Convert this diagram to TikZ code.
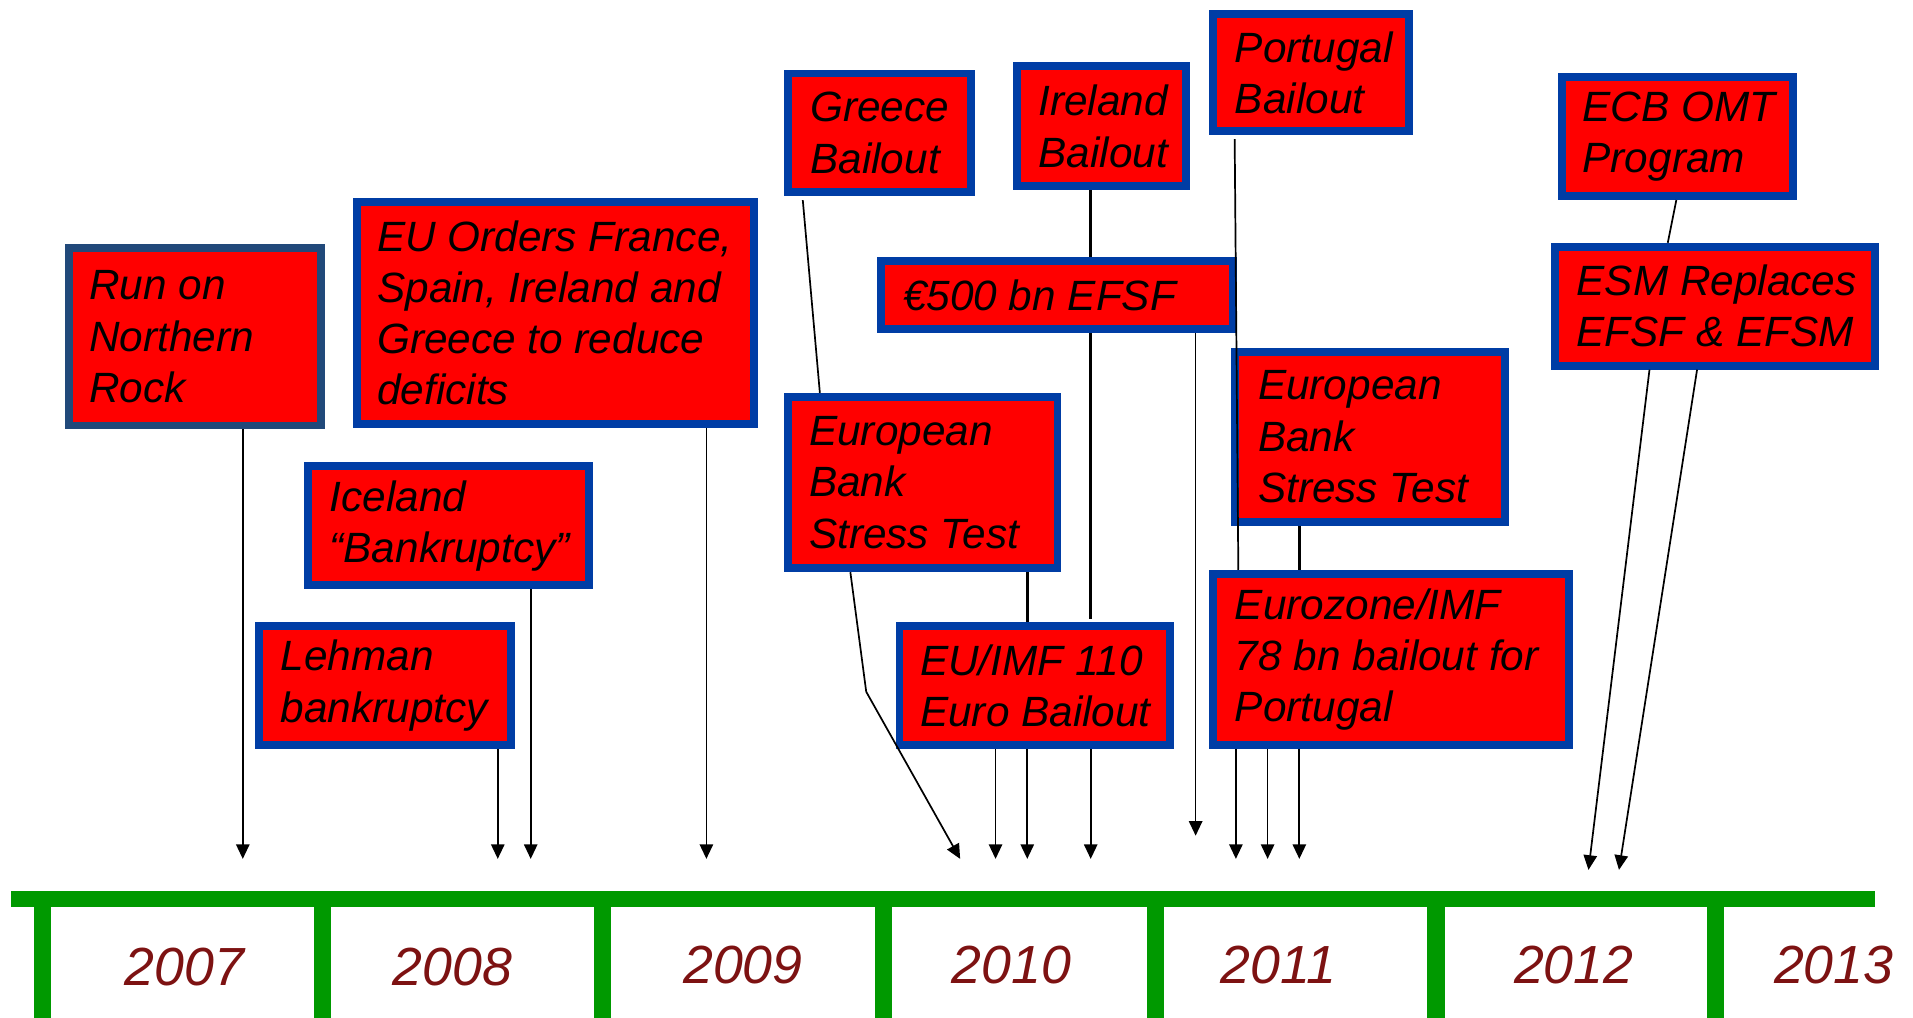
\documentclass[tikz,border=0pt]{standalone}
\usepackage{fontspec}
\setmainfont{Liberation Sans}
\usetikzlibrary{arrows.meta,calc}
\definecolor{boxred}{RGB}{255,0,0}
\definecolor{boxblue}{RGB}{0,61,165}
\definecolor{navyb}{RGB}{33,73,122}
\definecolor{tlgreen}{RGB}{0,153,0}
\definecolor{yearred}{RGB}{125,18,18}
\begin{document}
\begin{tikzpicture}[x=1pt,y=-1pt,
 evbox/.style={draw=boxblue, fill=boxred, line width=6.5pt, inner sep=0pt, outer sep=3.25pt},
 evtext/.style={anchor=west, align=left, inner sep=0pt, font=\fontsize{34.7}{42}\selectfont\itshape},
 conn/.style={line width=1.4pt, draw=black},
 thickconn/.style={line width=2.3pt, draw=black},
 arr/.style={conn, -{Triangle[width=11pt,length=12pt]}},
 yr/.style={text=yearred, font=\fontsize{44}{52}\selectfont\itshape, inner sep=0pt, anchor=base}
]
\useasboundingbox (0,0) rectangle (1568,834);

% ---------- timeline ----------
\fill[tlgreen] (9,730) rectangle (1537,743.5);
\foreach \tx in {35,264,494,724,947,1177,1406}{
  \fill[tlgreen] (\tx-7,743) rectangle (\tx+7,834);
}
\node[yr] (y2007) at (151,808) {2007};
\node[yr] (y2008) at (371,808) {2008};
\node[yr] (y2009) at (609,806) {2009};
\node[yr] (y2010) at (829,806) {2010};
\node[yr] (y2011) at (1048,806) {2011};
\node[yr] (y2012) at (1290,806) {2012};
\node[yr] (y2013) at (1503,806) {2013};

% ---------- event boxes ----------
\node[evbox, draw=navyb, minimum width=206.5pt, minimum height=145.5pt] (run) at (159.5,276) {};
\node[evbox, minimum width=325.5pt, minimum height=182.5pt] (euo) at (455,256.5) {};
\node[evbox, minimum width=230.5pt, minimum height=97.5pt] (ice) at (367.5,431) {};
\node[evbox, minimum width=206.5pt, minimum height=97.5pt] (leh) at (315.5,562) {};
\node[evbox, minimum width=149.5pt, minimum height=97.5pt] (gre) at (721,109) {};
\node[evbox, minimum width=138.5pt, minimum height=98.5pt] (ire) at (902.5,103.5) {};
\node[evbox, minimum width=160.5pt, minimum height=96.5pt] (por) at (1074.5,59.5) {};
\node[evbox, minimum width=288.5pt, minimum height=55.5pt] (efsf) at (866.5,242) {};
\node[evbox, minimum width=220.5pt, minimum height=140.5pt] (st1) at (756.5,395.5) {};
\node[evbox, minimum width=221.5pt, minimum height=97.5pt] (imf) at (848,562) {};
\node[evbox, minimum width=221.5pt, minimum height=139.5pt] (st2) at (1123,358) {};
\node[evbox, minimum width=291.5pt, minimum height=140.5pt] (ezi) at (1140,540.5) {};
\node[evbox, minimum width=189.5pt, minimum height=97.5pt] (ecb) at (1375,112) {};
\node[evbox, minimum width=262.5pt, minimum height=97.5pt] (esm) at (1405.5,251) {};

\node[evtext] (runT) at ([xshift=20pt]run.west) {Run on\\Northern\\Rock};
\node[evtext] (euoT) at ([xshift=20pt]euo.west) {EU Orders France,\\Spain, Ireland and\\Greece to reduce\\deficits};
\node[evtext] (iceT) at ([xshift=21pt]ice.west) {Iceland\\“Bankruptcy”};
\node[evtext] (lehT) at ([xshift=21pt]leh.west) {Lehman\\bankruptcy};
\node[evtext] (greT) at ([xshift=21pt]gre.west) {Greece\\Bailout};
\node[evtext] (ireT) at ([xshift=21pt]ire.west) {Ireland\\Bailout};
\node[evtext] (porT) at ([xshift=21pt]por.west) {Portugal\\Bailout};
\node[evtext] (efsfT) at ([xshift=21pt]efsf.west) {€500 bn EFSF};
\node[evtext] (st1T) at ([xshift=20pt]st1.west) {European\\Bank\\Stress Test};
\node[evtext] (imfT) at ([xshift=20pt]imf.west) {EU/IMF 110\\Euro Bailout};
\node[evtext] (st2T) at ([xshift=22pt]st2.west) {European\\Bank\\Stress Test};
\node[evtext] (eziT) at ([xshift=21pt]ezi.west) {Eurozone/IMF\\78 bn bailout for\\Portugal};
\node[evtext] (ecbT) at ([xshift=20pt]ecb.west) {ECB OMT\\Program};
\node[evtext] (esmT) at ([xshift=21pt]esm.west) {ESM Replaces\\EFSF \& EFSM};

% ---------- arrow ends on the timeline ----------
\coordinate (e1) at (199,704);
\coordinate (e2) at (579,704);
\coordinate (e3) at (435,704);
\coordinate (e4) at (408,704);
\coordinate (e5) at (787,704);
\coordinate (e6) at (816,704);
\coordinate (e7) at (842,704);
\coordinate (e8) at (894,704);
\coordinate (e9) at (980,685);
\coordinate (e10) at (1013,704);
\coordinate (e11) at (1039,704);
\coordinate (e12) at (1065,704);
\coordinate (e13) at (1302,713);
\coordinate (e14) at (1327,713);
\coordinate (b1) at (710,567);

% ---------- connectors ----------
\draw[arr] (run.south -| e1) -- (e1);
\draw[arr] (euo.south -| e2) -- (e2);
\draw[arr] (ice.south -| e3) -- (e3);
\draw[arr] (leh.south -| e4) -- (e4);

\draw[conn] ([xshift=-63pt,yshift=-3pt]gre.south) -- ([xshift=-84.5pt]st1.north);
\draw[arr] ([xshift=-59.5pt]st1.south) -- (b1) -- (e5);
\draw[thickconn] (st1.south -| e7) -- (imf.north -| e7);
\draw[arr] (imf.south -| e6) -- (e6);
\draw[arr] (imf.south -| e7) -- (e7);
\draw[arr] (imf.south -| e8) -- (e8);

\draw[thickconn] (ire.south -| e8) -- (efsf.north -| e8);
\draw[thickconn] (efsf.south -| e8) -- ([yshift=3pt]imf.north -| e8);
\draw[arr] (efsf.south -| e9) -- (e9);

\draw[conn] ([xshift=-62.5pt,yshift=-3pt]por.south) -- ([xshift=-125pt]ezi.north);
\draw[thickconn] (st2.south -| e12) -- (ezi.north -| e12);
\draw[arr] (ezi.south -| e10) -- (e10);
\draw[arr] (ezi.south -| e11) -- (e11);
\draw[arr] (ezi.south -| e12) -- (e12);

\draw[conn] ([xshift=-1pt]ecb.south) -- ([xshift=-38.5pt]esm.north);
\draw[arr] ([xshift=-53.5pt]esm.south) -- (e13);
\draw[arr] ([xshift=-14.5pt]esm.south) -- (e14);
\end{tikzpicture}
\end{document}
